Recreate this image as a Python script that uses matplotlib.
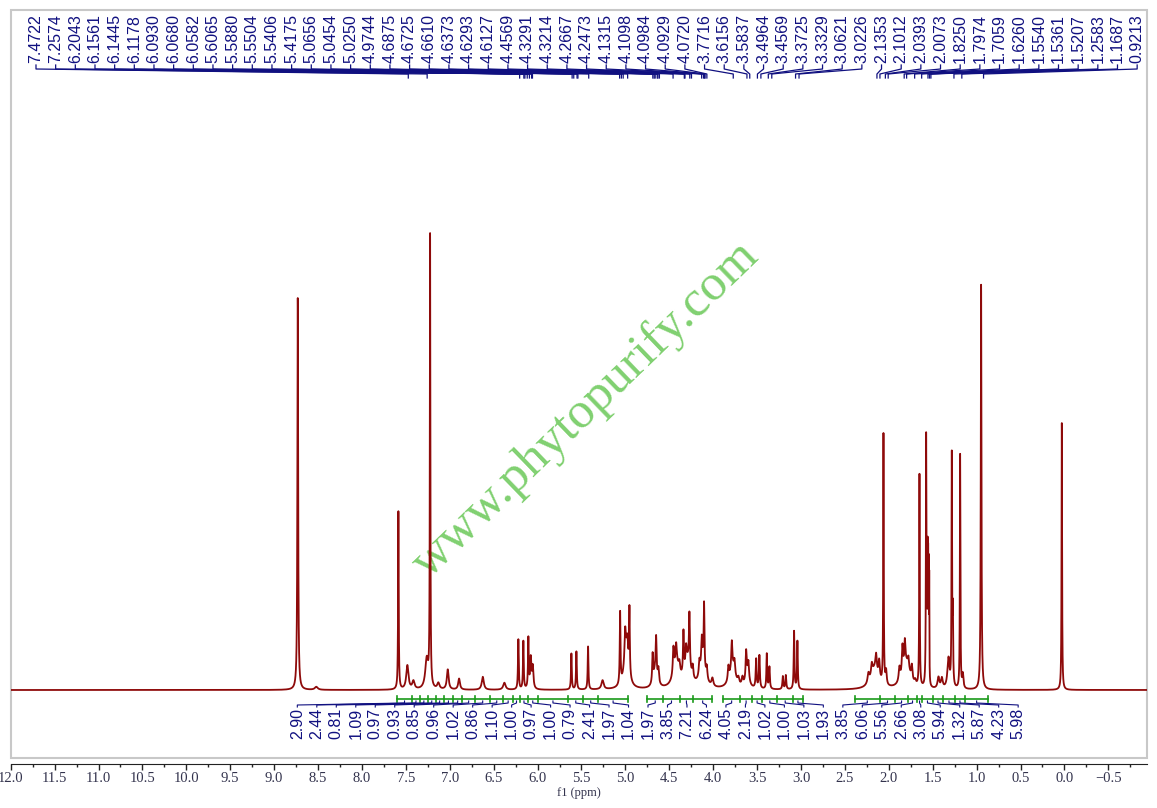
import numpy as np
import matplotlib
matplotlib.use('Agg')
import matplotlib.pyplot as plt
from matplotlib.patches import Rectangle
from matplotlib.ticker import MultipleLocator

plt.rcParams['font.family'] = ['Liberation Serif', 'DejaVu Serif']

# peak picking (ppm, height above baseline, half width)
peak_ppm = [8.731, 8.52, 7.585, 7.483, 7.414, 7.262, 7.224, 7.13, 7.023, 6.894,
            6.624, 6.378, 6.219, 6.162, 6.105, 6.078, 6.055, 5.615, 5.558, 5.425,
            5.26, 5.06, 5.003, 4.977, 4.954, 4.99, 4.69, 4.65, 4.624, 4.66,
            4.453, 4.422, 4.385, 4.339, 4.309, 4.271, 4.233, 4.157, 4.13, 4.104,
            4.073, 4.009, 4.42, 4.29, 4.12,
            3.827, 3.788, 3.758, 3.713, 3.667, 3.625, 3.599, 3.78, 3.61,
            3.511, 3.474, 3.39, 3.36, 3.207, 3.173, 3.079, 3.041,
            2.232, 2.194, 2.145, 2.11, 2.061, 2.031, 2.16,
            1.879, 1.845, 1.818, 1.777, 1.738, 1.70, 1.80, 1.651, 1.575,
            1.565, 1.558, 1.552, 1.546, 1.54,
            1.435, 1.396, 1.321, 1.283, 1.271, 1.188, 1.157, 0.949, 0.03]
peak_height = [392, 3, 178, 24, 8, 30, 450, 6, 20, 11,
               13, 7, 50, 48, 50, 30, 22, 36, 38, 43,
               9, 72, 28, 18, 66, 38, 28, 36, 14, 18,
               26, 18, 10, 42, 18, 52, 12, 14, 25, 62,
               12, 8, 24, 26, 26,
               14, 26, 12, 6, 8, 28, 16, 22, 12,
               29, 33, 35, 22, 13, 14, 58, 48,
               10, 12, 16, 18, 250, 14, 20,
               14, 28, 25, 10, 14, 4, 26, 212, 248,
               110, 118, 112, 105, 100,
               11, 10, 30, 228, 70, 234, 14, 405, 267]
peak_hw = [0.005, 0.02, 0.004, 0.015, 0.015, 0.02, 0.0035, 0.015, 0.012, 0.012,
           0.014, 0.016, 0.005, 0.005, 0.005, 0.008, 0.009, 0.005, 0.005, 0.005,
           0.015, 0.005, 0.008, 0.008, 0.005, 0.03, 0.006, 0.006, 0.008, 0.025,
           0.008, 0.008, 0.01, 0.006, 0.008, 0.006, 0.008, 0.008, 0.007, 0.005,
           0.008, 0.012, 0.04, 0.04, 0.035,
           0.008, 0.007, 0.008, 0.01, 0.01, 0.007, 0.008, 0.04, 0.025,
           0.006, 0.006, 0.005, 0.006, 0.006, 0.006, 0.005, 0.005,
           0.012, 0.01, 0.009, 0.009, 0.0035, 0.008, 0.05,
           0.01, 0.008, 0.008, 0.008, 0.008, 0.01, 0.05, 0.0035, 0.0035,
           0.002, 0.002, 0.002, 0.002, 0.002,
           0.012, 0.012, 0.014, 0.0035, 0.004, 0.0035, 0.008, 0.0045, 0.0035]

shift_labels = ['7.4722', '7.2574', '6.2043', '6.1561', '6.1445', '6.1178', '6.0930',
                '6.0680', '6.0582', '5.6065', '5.5880', '5.5504', '5.5406', '5.4175',
                '5.0656', '5.0454', '5.0250', '4.9744', '4.6875', '4.6725', '4.6610',
                '4.6373', '4.6293', '4.6127', '4.4569', '4.3291', '4.3214', '4.2667',
                '4.2473', '4.1315', '4.1098', '4.0984', '4.0929', '4.0720', '3.7716',
                '3.6156', '3.5837', '3.4964', '3.4569', '3.3725', '3.3329', '3.0621',
                '3.0226', '2.1353', '2.1012', '2.0393', '2.0073', '1.8250', '1.7974',
                '1.7059', '1.6260', '1.5540', '1.5361', '1.5207', '1.2583', '1.1687',
                '0.9213']

integral_values = ['2.90', '2.44', '0.81', '1.09', '0.97', '0.93', '0.85', '0.96',
                   '1.02', '0.86', '1.10', '1.00', '0.97', '1.00', '0.79', '2.41',
                   '1.97', '1.04', '1.97', '3.85', '7.21', '6.24', '4.05', '2.19',
                   '1.02', '1.00', '1.03', '1.93', '3.85', '6.06', '5.56', '2.66',
                   '3.08', '5.94', '1.32', '5.87', '4.23', '5.98']
# integration region edges, one list per block of adjacent regions
integral_edges = [
    [7.60, 7.43, 7.34, 7.25, 7.16, 7.07, 6.96, 6.86, 6.71, 6.54, 6.39, 6.28,
     6.20, 6.11, 6.00, 5.65, 5.48, 5.31, 4.97],
    [4.75, 4.57, 4.38, 4.23, 4.01],
    [3.89, 3.69, 3.56, 3.44, 3.27, 3.09, 2.98],
    [2.39, 2.10, 1.93, 1.78, 1.68, 1.62, 1.50, 1.38, 1.25, 1.13, 0.87],
]

x_left, x_right = 12.0, -0.94
red = '#8e0a0a'
navy = '#101080'
green = '#1a9a1a'

fig = plt.figure(figsize=(11.57, 8.08), dpi=100)
ax = fig.add_axes([0.00925, 0.06188, 0.9821, 0.92574])
ax.set_xlim(x_left, x_right)
ax.set_ylim(-68, 680)

# spectrum as a sum of lorentzian lines
ppm = np.linspace(x_left, x_right, 60000)
spec = np.zeros_like(ppm)
for p, h, w in zip(peak_ppm, peak_height, peak_hw):
    spec += h / (1 + ((ppm - p) / w) ** 2)
ax.plot(ppm, spec, color=red, lw=1.3, zorder=3)

# watermark
ax.text(5.45, 280, 'www.phytopurify.com', rotation=44, rotation_mode='anchor',
        ha='center', va='center', color='#80d070', fontsize=37,
        family='Liberation Serif', zorder=1)

# peak labels on top
lab_x = np.linspace(11.712, -0.828, len(shift_labels))
for lx, s in zip(lab_x, shift_labels):
    px = float(s)
    ax.text(lx, 627, s, rotation=90, ha='center', va='bottom', color=navy,
            fontsize=11.5, family='Liberation Sans')
    ax.plot([lx, lx, px, px], [625, 621, 616, 612], color=navy, lw=0.9,
            clip_on=False, zorder=2)

# integrals
centers = []
for edges in integral_edges:
    ax.plot([edges[0], edges[-1]], [-9, -9], color=green, lw=1.2, zorder=2)
    for e in edges:
        ax.plot([e, e], [-6, -12], color=green, lw=1.2, zorder=2)
    for a, b in zip(edges[:-1], edges[1:]):
        centers.append((a + b) / 2)

int_x = np.linspace(8.736, 0.527, len(integral_values))
for lx, cx, v in zip(int_x, centers, integral_values):
    ax.text(lx, -18, v, rotation=90, ha='center', va='top', color=navy,
            fontsize=11.5, family='Liberation Sans')
    ax.plot([lx, lx, cx, cx], [-17, -15, -13, -11], color=navy, lw=0.8, zorder=2)

# frame and ppm axis
for side in ['top', 'left', 'right']:
    ax.spines[side].set_visible(False)
ax.spines['bottom'].set_position(('outward', 4.3))
ax.spines['bottom'].set_color('#222222')
ax.add_patch(Rectangle((0, 0), 1, 1, transform=ax.transAxes, fill=False,
                       ec='#c8c8c8', lw=1.5, clip_on=False))
ax.set_yticks([])
ax.xaxis.set_major_locator(MultipleLocator(0.5))
ax.xaxis.set_minor_locator(MultipleLocator(0.25))
ax.tick_params(axis='x', which='major', length=4.5, width=1, direction='out',
               pad=1.5, labelsize=10.5, labelcolor='#33334d', color='#222222')
ax.tick_params(axis='x', which='minor', length=2.5, width=1, direction='out',
               color='#222222')
ax.set_xlabel('f1 (ppm)', fontsize=9, labelpad=1, color='#33334d')

plt.savefig('out.png', dpi=100)
